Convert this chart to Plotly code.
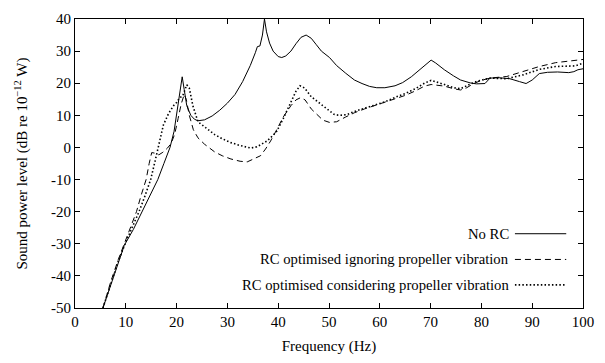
import plotly.graph_objects as go

# No RC
f_norc = [5.5, 7, 8.5, 9.7, 11.5, 13.2, 15, 16.3, 17.5, 18.7, 19.5, 20.2, 20.8, 21.1, 21.5, 22, 22.8, 23.5,
          24.2, 25.5, 27, 28.5, 30, 31.5, 33, 34.5, 35.5, 35.9, 36.4, 36.9, 37.3, 37.7, 38.3, 39, 40, 40.7,
          41.5, 42.5, 43.5, 44.5, 45.5, 46.5, 47.5, 48.5, 50.1, 51.5, 53.3, 55, 56.5, 58, 59.4, 61, 63,
          64.5, 66.2, 67.5, 68.9, 70.1, 71, 72.7, 74.5, 75.9, 77.8, 79, 80.7, 81.7, 83.5, 85.6, 87.5, 88.8,
          90, 91.4, 93, 95, 97.2, 98.2, 99, 100]
p_norc = [-50, -43, -36, -30.5, -25.5, -20, -14.5, -10, -5, 0, 5, 12, 19, 22, 18, 13, 10, 8.8,
          8.3, 8.6, 9.8, 11.6, 13.8, 16.5, 20.5, 25.5, 29.5, 31.4, 31.6, 35, 40, 36, 32.5, 30, 28.3, 28,
          28.5, 30, 32.3, 34.3, 35, 34, 32, 30, 28, 25.5, 23.1, 21, 19.9, 19, 18.6, 18.6, 19.2,
          20.2, 22, 23.8, 25.7, 27.2, 26.3, 24.2, 22.3, 21, 20.1, 19.8, 19.9, 21.6, 21.7, 21.4, 20.5, 19.9,
          21, 23, 23.4, 23.5, 23.3, 23.6, 24.2, 24.5]

# RC optimised ignoring propeller vibration
f_ign = [5.5, 7, 8.5, 10, 11, 12.1, 13, 14, 14.6, 15.1, 15.8, 16.5, 17.3, 18.2, 18.9, 19.6, 20.3, 20.9,
         21.5, 21.9, 22.5, 23.3, 24.2, 25.5, 27.5, 29, 30.7, 32.5, 33.9, 35, 36.5, 37.5, 38.5, 39.7, 41,
         42.5, 43.5, 44.4, 45.3, 46.5, 48, 48.8, 50.1, 51.5, 53.3, 55, 57, 59, 61, 63, 65, 67, 68.8, 70.1,
         71.5, 72.7, 74.5, 75.9, 77, 78.5, 80, 81.7, 85, 88.2, 91.4, 94.6, 98.5, 100]
p_ign = [-50, -42, -35, -29, -24.5, -20, -15, -10, -5, -1.6, -1.8, -2.3, -1.5, -0.2, 1.2, 4, 9, 13.5,
         16.5, 15, 10, 5.5, 3, 1, -1.4, -2.6, -3.6, -4.3, -4.5, -3.8, -2.6, -0.5, 2, 5.5, 9.5,
         13, 14.8, 15.5, 14.8, 12, 9.5, 8.5, 7.8, 8, 9.5, 10.8, 12, 13, 14, 15.2, 16.2, 17.6, 19.1, 19.6,
         19.4, 19.1, 18.3, 17.9, 18.5, 19.9, 20.9, 21.6, 22.1, 23.6, 25.2, 26.4, 27, 27.4]

# RC optimised considering propeller vibration
f_con = [5.5, 7, 8.5, 10, 11.3, 12.6, 13.8, 14.9, 15.8, 16.6, 17.4, 18.4, 19.4, 20, 20.6, 21.2, 21.6, 22,
         22.5, 23.2, 24.2, 25.5, 27.5, 29, 30.7, 32.5, 34.6, 35.8, 37, 37.8, 39, 39.7, 41, 42.5, 43.5,
         44.3, 45.2, 46.5, 48, 48.8, 50.1, 51, 52, 53.5, 55, 57, 59, 61, 63, 65, 67, 68.8, 70.1, 71.5,
         72.7, 74.5, 75.9, 77.5, 79.1, 81.7, 85, 88.2, 91.4, 94.6, 98.5, 100]
p_con = [-50, -42.5, -35.5, -29.5, -25, -20, -15, -10, -4, 2, 7, 10.5, 13, 14, 15.5, 16, 17.5, 19.5,
         18.5, 13, 8, 6.5, 4, 2.7, 1.5, 0.6, -0.2, 0.2, 1.2, 2, 3.8, 5, 9, 14, 17.5,
         19.2, 18.5, 15.8, 14, 13, 11.5, 10.3, 10, 10.2, 11.2, 12.2, 13.2, 14.2, 15.6, 16.8, 18.3, 20, 20.9, 20.3,
         19.6, 18.6, 18.3, 19.5, 20.6, 21.6, 21.4, 22.6, 24.3, 25.2, 25.4, 26.2]

x_ticks = [0, 10, 20, 30, 40, 50, 60, 70, 80, 90, 100]
y_ticks = [40, 30, 20, 10, 0, -10, -20, -30, -40, -50]
y_ticktext = [str(v) for v in y_ticks]

legend_names = ["No RC", "RC optimised ignoring propeller vibration",
                "RC optimised considering propeller vibration"]

FONT = "Liberation Serif"
FS = 15
styles = [dict(color="black", width=1, dash="solid"),
          dict(color="black", width=1, dash="6px,4px"),
          dict(color="black", width=1.6, dash="1.5px,2.2px")]

fig = go.Figure()
for fx, py, name, st in zip([f_norc, f_ign, f_con], [p_norc, p_ign, p_con], legend_names, styles):
    fig.add_trace(go.Scatter(x=fx, y=py, mode="lines", name=name, line=st, showlegend=False))

# legend (gnuplot style: text left, sample right)
leg_y = [0.257, 0.168, 0.080]
for name, st, ly in zip(legend_names, styles, leg_y):
    fig.add_annotation(x=0.858, y=ly, xref="paper", yref="paper", text=name, showarrow=False,
                       xanchor="right", yanchor="middle", font=dict(family=FONT, size=14.7, color="black"))
    fig.add_shape(type="line", xref="paper", yref="paper", x0=0.866, x1=0.967, y0=ly, y1=ly,
                  line=st)

axis_common = dict(showline=True, linecolor="black", linewidth=1, mirror="ticks", ticks="inside",
                   ticklen=5, tickcolor="black", tickwidth=1, showgrid=False, zeroline=False,
                   tickfont=dict(family=FONT, size=FS, color="black"))

fig.update_xaxes(range=[0, 100], tickvals=x_ticks, ticktext=[str(v) for v in x_ticks],
                 title=dict(text="Frequency (Hz)", font=dict(family=FONT, size=FS, color="black"), standoff=11),
                 **axis_common)
fig.update_yaxes(range=[-50, 40], tickvals=y_ticks, ticktext=y_ticktext,
                 title=dict(text="Sound power level (dB re 10<sup>\u221212</sup> W)",
                            font=dict(family=FONT, size=FS, color="black"), standoff=19),
                 **axis_common)

fig.update_layout(width=605, height=363, margin=dict(l=75, r=14, t=11, b=55),
                  plot_bgcolor="white", paper_bgcolor="white",
                  font=dict(family=FONT, size=FS, color="black"))

fig.write_html("out.html")
